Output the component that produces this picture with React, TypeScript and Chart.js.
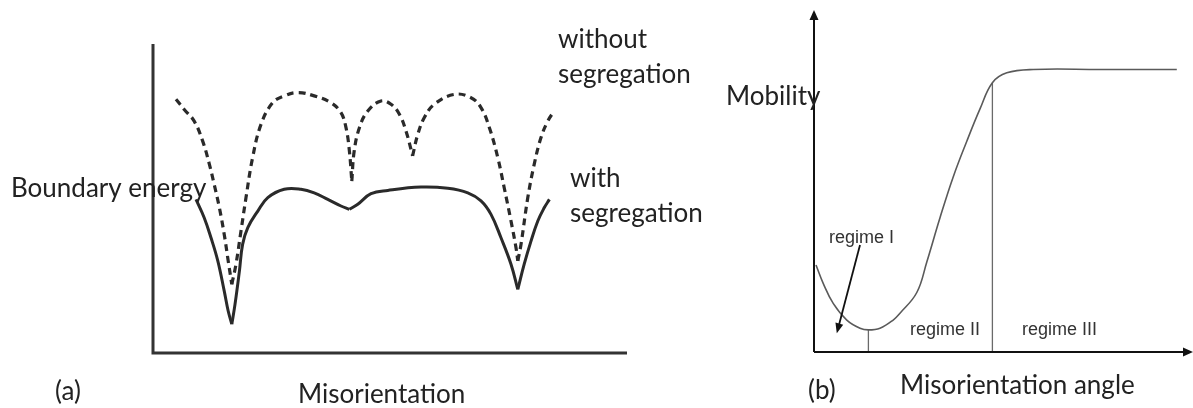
import { useEffect, useRef } from "react";
import { Chart, registerables } from "chart.js";

Chart.register(...registerables);

// ---------- (a) boundary energy vs misorientation (arbitrary units) ----------
const withoutSegAngle = [
  5.75, 7.8, 10.3, 12.4, 14.1, 15.3, 16.6, 17.8, 18.8, 19.7,
  20.75, 22.0, 23.25, 24.9, 27.0, 29.9, 32.8, 36.2, 40.3, 44.5,
  47.0, 48.25, 49.1, 49.7, 50.3, 51.6, 53.7, 57.0, 59.5, 61.6,
  63.25, 64.9, 66.2, 67.8, 70.3, 75.3, 79.5, 82.0, 84.1, 86.2,
  87.8, 89.5, 90.75, 91.2, 92.0, 93.7, 95.3, 97.0, 98.7, 100.3,
];
const withoutSegEnergy = [
  84.6, 81.2, 77.3, 70.7, 62.9, 56.2, 48.4, 39.6, 30.7, 22.9,
  29.6, 40.7, 51.8, 65.1, 76.2, 83.4, 85.7, 86.8, 85.7, 83.4,
  80.1, 75.1, 67.3, 57.3, 67.3, 75.1, 80.7, 84.0, 82.9, 79.6,
  74.0, 65.7, 72.9, 78.4, 82.9, 86.2, 85.1, 81.8, 75.1, 65.1,
  55.1, 44.0, 35.1, 30.7, 36.2, 51.8, 62.9, 71.8, 77.3, 80.7,
];
const withSegAngle = [
  10.75, 12.8, 14.5, 16.2, 17.8, 18.8, 19.7, 20.5, 21.6, 22.4,
  23.7, 26.2, 28.7, 32.8, 37.0, 40.3, 43.7, 47.0, 49.1, 51.2,
  54.5, 58.7, 67.0, 73.7, 78.7, 82.0, 84.5, 87.0, 89.5, 91.2,
  92.8, 94.5, 96.2, 97.8, 99.1,
];
const withSegEnergy = [
  51.2, 45.1, 38.4, 30.7, 20.7, 14.0, 9.6, 16.2, 27.3, 36.2,
  41.8, 47.3, 51.8, 54.6, 54.6, 53.4, 51.2, 49.0, 47.9, 49.6,
  53.1, 54.2, 55.3, 54.9, 53.4, 50.7, 46.2, 38.4, 29.6, 21.2,
  29.6, 37.3, 44.0, 48.4, 51.2,
];

// ---------- (b) mobility vs misorientation angle ----------
const mobilityAngle = [
  0.5, 2.3, 4.8, 8.2, 11.5, 13.6, 16.5, 19.8, 21.5, 25.7,
  28.2, 31.5, 34.8, 38.2, 41.5, 44.6, 48.2, 54.8, 71.5, 90.7,
];
const mobilityValue = [
  25.6, 20.2, 14.3, 9.4, 7.0, 6.5, 7.0, 9.4, 11.4, 17.5,
  26.5, 39.5, 51.5, 62.0, 71.5, 79.2, 82.1, 83.1, 83.1, 83.1,
];
const regimeBounds = [13.6, 44.6];
const regimeArrowFrom = [11.5, 31.5];
const regimeArrowTo = [5.7, 5.5];

const INK = "#222222";
const SANS = "Lato, 'Open Sans', sans-serif";
const HELV = "'Liberation Sans', Arial, sans-serif";

type Label = { text: string; x: number; y: number; font: string; color: string };

// page-space label anchors (left, baseline)
const labelsA: Label[] = [
  { text: "Boundary energy", x: 11, y: 197, font: `26px ${SANS}`, color: INK },
  { text: "without", x: 558, y: 48, font: `26px ${SANS}`, color: INK },
  { text: "segregation", x: 558, y: 83, font: `26px ${SANS}`, color: INK },
  { text: "with", x: 570, y: 187, font: `26px ${SANS}`, color: INK },
  { text: "segregation", x: 570, y: 222, font: `26px ${SANS}`, color: INK },
  { text: "(a)", x: 55, y: 400, font: `26px ${SANS}`, color: INK },
  { text: "Misorientation", x: 298, y: 403, font: `26px ${SANS}`, color: INK },
];
const labelsB: Label[] = [
  { text: "Mobility", x: 726, y: 105, font: `26px ${SANS}`, color: INK },
  { text: "(b)", x: 808, y: 399, font: `26px ${SANS}`, color: INK },
  { text: "Misorientation angle", x: 900, y: 394, font: `26px ${SANS}`, color: INK },
  { text: "regime I", x: 829, y: 243, font: `18px ${HELV}`, color: "#333" },
  { text: "regime II", x: 910, y: 335, font: `18px ${HELV}`, color: "#333" },
  { text: "regime III", x: 1022, y: 335, font: `18px ${HELV}`, color: "#333" },
];

type Pt = { x: number; y: number };

// split a curve into arcs at each local minimum so the cusps stay sharp
function arcs(xs: number[], ys: number[]): Pt[][] {
  const out: Pt[][] = [];
  let cur: Pt[] = [];
  xs.forEach((x, i) => {
    const p = { x, y: ys[i] };
    cur.push(p);
    const isMin = i > 0 && i < xs.length - 1 && ys[i] < ys[i - 1] && ys[i] < ys[i + 1];
    if (isMin) {
      out.push(cur);
      cur = [p];
    }
  });
  out.push(cur);
  return out;
}

function arrowHead(ctx: CanvasRenderingContext2D, fx: number, fy: number, tx: number, ty: number, len: number, half: number) {
  const a = Math.atan2(ty - fy, tx - fx);
  ctx.beginPath();
  ctx.moveTo(tx, ty);
  ctx.lineTo(tx - len * Math.cos(a) + half * Math.sin(a), ty - len * Math.sin(a) - half * Math.cos(a));
  ctx.lineTo(tx - len * Math.cos(a) - half * Math.sin(a), ty - len * Math.sin(a) + half * Math.cos(a));
  ctx.closePath();
  ctx.fill();
}

function labelPlugin(id: string, labels: Label[], offsetX: number) {
  return {
    id,
    afterDraw(chart: any) {
      const ctx: CanvasRenderingContext2D = chart.ctx;
      ctx.save();
      ctx.textBaseline = "alphabetic";
      ctx.textAlign = "left";
      labels.forEach((l) => {
        ctx.font = l.font;
        ctx.fillStyle = l.color;
        ctx.fillText(l.text, l.x - offsetX, l.y);
      });
      ctx.restore();
    },
  };
}

const A_LEFT = 0, A_W = 718;
const B_LEFT = 718, B_W = 1193 - 718;
const H = 408;

export default function App() {
  const refA = useRef<HTMLCanvasElement>(null);
  const refB = useRef<HTMLCanvasElement>(null);

  useEffect(() => {
    const base = {
      animation: false as const,
      responsive: false,
      plugins: { legend: { display: false }, tooltip: { enabled: false } },
      elements: { point: { radius: 0 } },
    };

    // ---- panel (a)
    const dashedArcs = arcs(withoutSegAngle, withoutSegEnergy).map((d) => ({
      data: d,
      borderColor: "#2a2a2a",
      borderWidth: 3.2,
      borderDash: [7, 5],
      tension: 0.4,
      clip: false as const,
    }));
    const solidArcs = arcs(withSegAngle, withSegEnergy).map((d) => ({
      data: d,
      borderColor: "#2a2a2a",
      borderWidth: 3,
      tension: 0.4,
      clip: false as const,
    }));

    const axesA = {
      id: "axesA",
      afterDatasetsDraw(chart: any) {
        const { ctx, chartArea } = chart;
        const { left, top, right, bottom } = chartArea;
        ctx.save();
        ctx.strokeStyle = "#333";
        ctx.lineWidth = 3;
        ctx.lineCap = "butt";
        ctx.lineJoin = "miter";
        ctx.beginPath();
        ctx.moveTo(left, top);
        ctx.lineTo(left, bottom);
        ctx.lineTo(right, bottom);
        ctx.stroke();
        ctx.restore();
      },
    };

    const chartA = new Chart(refA.current!, {
      type: "line",
      data: { datasets: [...dashedArcs, ...solidArcs] as any },
      options: {
        ...base,
        layout: { padding: { left: 153, top: 44, right: A_W - 627, bottom: H - 353 } },
        scales: {
          x: { type: "linear", min: 0, max: 118.5, display: false },
          y: { type: "linear", min: 0, max: 103, display: false },
        },
      } as any,
      plugins: [axesA, labelPlugin("labelsA", labelsA, A_LEFT)],
    });

    // ---- panel (b)
    const mobility = mobilityAngle.map((x, i) => ({ x, y: mobilityValue[i] }));
    const drops = regimeBounds.map((b) => ({
      data: [
        { x: b, y: 0 },
        { x: b, y: mobilityValue[mobilityAngle.indexOf(b)] },
      ],
      borderColor: "#6a6a6a",
      borderWidth: 1.3,
      tension: 0,
    }));

    const axesB = {
      id: "axesB",
      afterDatasetsDraw(chart: any) {
        const { ctx, chartArea, scales } = chart;
        const { left, top, bottom } = chartArea;
        const tipTop = top - 2;
        const tipRight = chart.width;
        ctx.save();
        ctx.strokeStyle = "#111";
        ctx.fillStyle = "#111";
        ctx.lineWidth = 2;
        ctx.beginPath();
        ctx.moveTo(left, bottom);
        ctx.lineTo(left, tipTop + 8);
        ctx.moveTo(left, bottom);
        ctx.lineTo(tipRight - 8, bottom);
        ctx.stroke();
        arrowHead(ctx, left, bottom, left, tipTop, 10, 4.5);
        arrowHead(ctx, left, bottom, tipRight, bottom, 10, 4.5);

        // arrow pointing at the regime I minimum region
        const fx = scales.x.getPixelForValue(regimeArrowFrom[0]);
        const fy = scales.y.getPixelForValue(regimeArrowFrom[1]);
        const tx = scales.x.getPixelForValue(regimeArrowTo[0]);
        const ty = scales.y.getPixelForValue(regimeArrowTo[1]);
        const a = Math.atan2(ty - fy, tx - fx);
        ctx.lineWidth = 1.8;
        ctx.beginPath();
        ctx.moveTo(fx, fy);
        ctx.lineTo(tx - 8 * Math.cos(a), ty - 8 * Math.sin(a));
        ctx.stroke();
        arrowHead(ctx, fx, fy, tx, ty, 10, 4);
        ctx.restore();
      },
    };

    const chartB = new Chart(refB.current!, {
      type: "line",
      data: {
        datasets: [
          {
            data: mobility,
            borderColor: "#5a5a5a",
            borderWidth: 1.6,
            tension: 0.4,
          },
          ...drops,
        ] as any,
      },
      options: {
        ...base,
        layout: { padding: { left: 814 - B_LEFT, top: 12, right: 3, bottom: H - 352 } },
        scales: {
          x: { type: "linear", min: 0, max: 94, display: false },
          y: { type: "linear", min: 0, max: 100, display: false },
        },
      } as any,
      plugins: [axesB, labelPlugin("labelsB", labelsB, B_LEFT)],
    });

    return () => {
      chartA.destroy();
      chartB.destroy();
    };
  }, []);

  return (
    <div style={{ position: "fixed", left: 0, top: 0, width: 1193, height: H, background: "#fff" }}>
      <canvas
        ref={refA}
        width={A_W}
        height={H}
        style={{ position: "absolute", left: A_LEFT, top: 0, width: A_W, height: H }}
      />
      <canvas
        ref={refB}
        width={B_W}
        height={H}
        style={{ position: "absolute", left: B_LEFT, top: 0, width: B_W, height: H }}
      />
    </div>
  );
}
